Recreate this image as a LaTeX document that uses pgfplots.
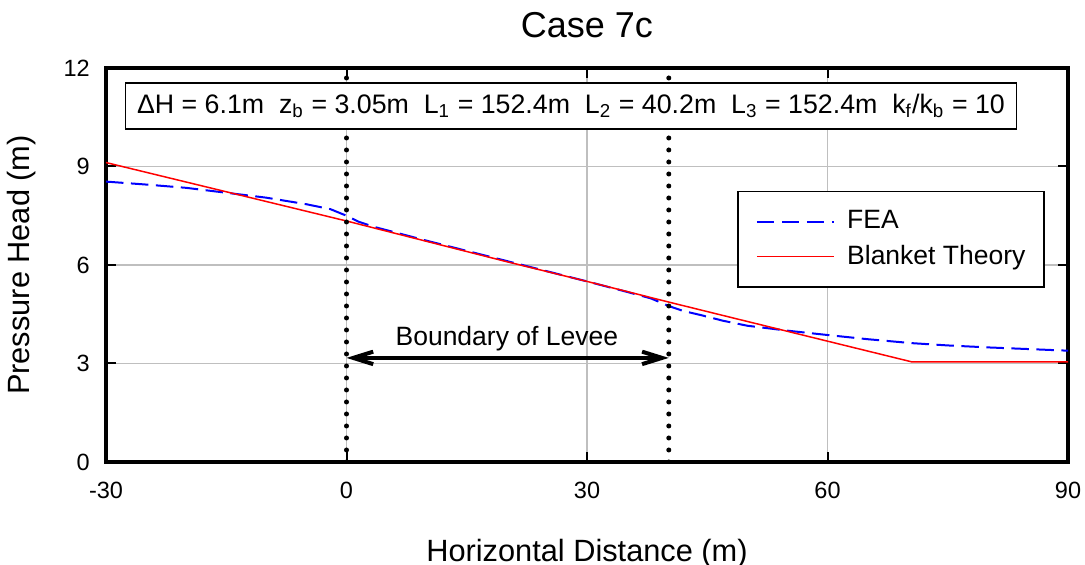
\documentclass[border=0pt]{standalone}
\usepackage{fontspec}
\setmainfont{Liberation Sans}
\usepackage{pgfplots}
\pgfplotsset{compat=1.18}
\usetikzlibrary{arrows.meta}
\begin{document}
\begin{tikzpicture}
\begin{axis}[
    scale only axis,
    width=384.8pt, height=157.6pt,
    xmin=-30, xmax=90, ymin=0, ymax=12,
    xtick={-30,0,30,60,90},
    ytick={0,3,6,9,12},
    /pgf/number format/assume math mode=true,
    tick label style={font=\fontsize{9.4}{11}\selectfont},
    xticklabel style={yshift=-4.5pt},
    yticklabel style={xshift=-3pt},
    tick align=inside,
    major tick length=4pt,
    tick style={black, line width=0.8pt},
    grid=major,
    grid style={draw=black!25, line width=0.7pt},
    axis line style={line width=1.6pt},
    every axis title shift=0pt,
    title={Case 7c},
    title style={font=\fontsize{14.4}{17}\selectfont, at={(axis description cs:0.5,1.109)}, anchor=center},
    xlabel={Horizontal Distance (m)},
    xlabel style={font=\fontsize{12.3}{14}\selectfont, at={(axis description cs:0.5,-0.2335)}, anchor=center},
    ylabel={Pressure Head (m)},
    ylabel style={font=\fontsize{12.3}{14}\selectfont, at={(axis description cs:-0.0873,0.5)}, anchor=center},
    legend style={at={(axis description cs:0.976,0.688)}, anchor=north east,
        draw=black, line width=0.6pt, font=\fontsize{10.6}{12.5}\selectfont,
        inner xsep=4pt, inner ysep=5.6pt, row sep=1pt,
        nodes={inner xsep=3.5pt}},
    legend cell align=left,
    legend image code/.code={\path[draw=none] (-3.6pt,0pt) -- (32.6pt,0pt); \draw[#1] (0pt,0pt) -- (31pt,0pt);},
]
% FEA
\addplot[blue, line width=0.8pt, dash pattern=on 7pt off 3pt] coordinates {
    (-30,8.54) (-25,8.45) (-20,8.35) (-15,8.2) (-10,8.05) (-5,7.85) (-2,7.7)
    (0,7.5) (1.5,7.32) (3.3,7.17) (10,6.74) (20,6.12) (30,5.5) (35,5.18)
    (38,4.98) (40.2,4.75) (42,4.6) (44.1,4.48) (47,4.3) (50,4.15) (55,4.0)
    (59.9,3.87) (65,3.74) (70.5,3.62) (75,3.55) (80,3.49) (85,3.44) (90,3.39)
};
\addlegendentry{FEA}
% Blanket Theory
\addplot[red, line width=0.6pt] coordinates {
    (-30,9.12) (-15,8.23) (0,7.34) (10,6.72) (20,6.1) (30,5.5) (40.2,4.87)
    (50,4.28) (60,3.68) (70.5,3.05) (90,3.05)
};
\addlegendentry{Blanket Theory}
% levee boundaries
\addplot[black, line width=2pt, dash pattern=on 0pt off 4.8pt, line cap=round, forget plot]
    coordinates {(0,0) (0,12)};
\addplot[black, line width=2pt, dash pattern=on 0pt off 4.8pt, line cap=round, forget plot]
    coordinates {(40.2,0) (40.2,12)};
\addplot[black, line width=1.6pt, {Straight Barb[length=8pt, width=5pt]}-{Straight Barb[length=8pt, width=5pt]}, forget plot]
    coordinates {(0,3.17) (40.2,3.17)};
\node[anchor=base, font=\fontsize{10.6}{12}\selectfont] at (axis cs:20,3.54) {Boundary of Levee};
\node[draw=black, line width=0.6pt, fill=white, minimum width=356.4pt, minimum height=18.4pt,
      font=\fontsize{10.7}{12}\selectfont] at (axis cs:28.0,10.84)
    {ΔH = 6.1m\ \ z\textsubscript{b} = 3.05m\ \ L\textsubscript{1} = 152.4m\ \ L\textsubscript{2} = 40.2m\ \ L\textsubscript{3} = 152.4m\ \ k\textsubscript{f}/k\textsubscript{b} = 10};
\end{axis}
\pgfresetboundingbox
\path ([shift={(-42.4pt,-41.2pt)}]current axis.south west) rectangle ([shift={(6.8pt,27.2pt)}]current axis.north east);
\end{tikzpicture}
\end{document}
